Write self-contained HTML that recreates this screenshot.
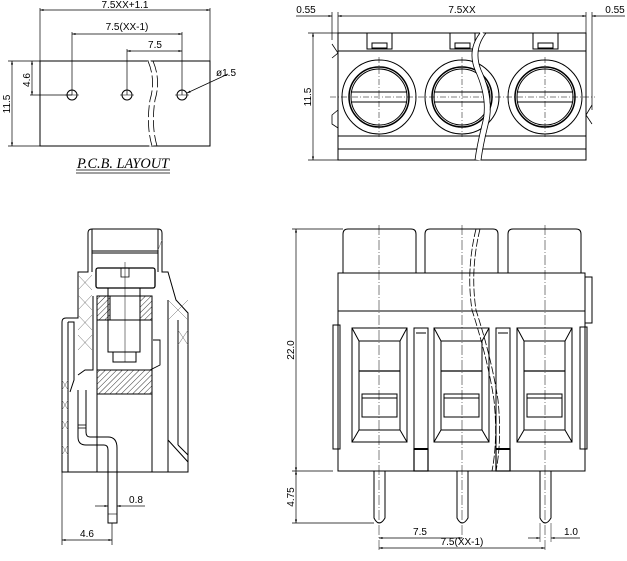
<!DOCTYPE html>
<html><head><meta charset="utf-8"><style>
html,body{margin:0;padding:0;background:#fff;}
svg{display:block;}
text{font-family:"Liberation Sans",sans-serif;font-size:10px;fill:#000;}
</style></head><body>
<svg width="627" height="561" viewBox="0 0 627 561" xmlns="http://www.w3.org/2000/svg">
<defs>
<marker id="a" viewBox="0 0 10 10" refX="10" refY="5" markerWidth="7" markerHeight="5" orient="auto-start-reverse"><path d="M0,2 L10,5 L0,8 z" fill="#000"/></marker>
<pattern id="h" width="4" height="4" patternUnits="userSpaceOnUse" patternTransform="rotate(45)"><line x1="0" y1="0" x2="0" y2="4" stroke="#000" stroke-width="0.8"/></pattern>
</defs>
<g fill="none" stroke="#000" stroke-width="1">
<!-- PCB layout -->
<rect x="40" y="61" width="170" height="85"/>
<line x1="40" y1="8" x2="40" y2="61" stroke-width="0.7"/><line x1="210" y1="8" x2="210" y2="61" stroke-width="0.7"/>
<line x1="40" y1="10" x2="210" y2="10" marker-start="url(#a)" marker-end="url(#a)" stroke-width="0.7"/>
<line x1="72" y1="32" x2="72" y2="95" stroke-width="0.7"/><line x1="182" y1="32" x2="182" y2="95" stroke-width="0.7"/>
<line x1="72" y1="34" x2="182" y2="34" marker-start="url(#a)" marker-end="url(#a)" stroke-width="0.7"/>
<line x1="127" y1="49" x2="127" y2="95" stroke-width="0.7"/>
<line x1="127" y1="51" x2="182" y2="51" marker-start="url(#a)" marker-end="url(#a)" stroke-width="0.7"/>
<circle cx="72" cy="95" r="5"/><circle cx="127" cy="95" r="5"/><circle cx="182" cy="95" r="5"/>
<line x1="65" y1="95" x2="79" y2="95" stroke-width="0.5"/><line x1="120" y1="95" x2="134" y2="95" stroke-width="0.5"/><line x1="175" y1="95" x2="189" y2="95" stroke-width="0.5"/>
<line x1="30" y1="95" x2="72" y2="95" stroke-width="0.7"/>
<line x1="32" y1="61" x2="32" y2="95" marker-start="url(#a)" marker-end="url(#a)" stroke-width="0.7"/>
<line x1="8" y1="61" x2="40" y2="61" stroke-width="0.7"/><line x1="8" y1="146" x2="40" y2="146" stroke-width="0.7"/>
<line x1="12" y1="61" x2="12" y2="146" marker-start="url(#a)" marker-end="url(#a)" stroke-width="0.7"/>
<line x1="228" y1="74" x2="187" y2="93" marker-end="url(#a)" stroke-width="0.7"/>
<path d="M148,61 Q156,80 150,100 Q146,125 152,146" stroke="#fff" stroke-width="5"/>
<path d="M148,61 Q156,80 150,100 Q146,125 152,146 M153,61 Q161,80 155,100 Q151,125 157,146" stroke-width="0.8" stroke-dasharray="12,3"/>
<line x1="76" y1="170" x2="170" y2="170" stroke-width="0.8"/><line x1="76" y1="173" x2="170" y2="173" stroke-width="0.8"/>

<!-- Top view -->
<rect x="338" y="33" width="248" height="127"/>
<line x1="338" y1="51" x2="586" y2="51"/>
<line x1="338" y1="136" x2="586" y2="136"/>
<line x1="338" y1="149" x2="586" y2="149"/>
<rect x="367" y="33" width="25" height="16"/><rect x="372" y="43" width="15" height="5"/>
<rect x="450" y="33" width="25" height="16"/><rect x="455" y="43" width="15" height="5"/>
<rect x="533" y="33" width="25" height="16"/><rect x="538" y="43" width="15" height="5"/>
<path d="M332,44 L338,53 L332,58" stroke-width="0.8"/><path d="M338,110 L332,115 L332,124 L338,128" stroke-width="0.8"/>
<path d="M592,105 L586,115 L592,124" stroke-width="0.8"/>
<g>
<circle cx="379" cy="97" r="37"/><circle cx="379" cy="97" r="30" stroke-width="1.5"/><circle cx="379" cy="97" r="28"/>
<line x1="351" y1="92" x2="407" y2="92"/><line x1="351" y1="102" x2="407" y2="102"/>
<circle cx="462" cy="97" r="37"/><circle cx="462" cy="97" r="30" stroke-width="1.5"/><circle cx="462" cy="97" r="28"/>
<line x1="434" y1="92" x2="490" y2="92"/><line x1="434" y1="102" x2="490" y2="102"/>
<circle cx="545" cy="97" r="37"/><circle cx="545" cy="97" r="30" stroke-width="1.5"/><circle cx="545" cy="97" r="28"/>
<line x1="517" y1="92" x2="573" y2="92"/><line x1="517" y1="102" x2="573" y2="102"/>
</g>
<g stroke-width="0.5" stroke-dasharray="6,2,1,2">
<line x1="330" y1="97" x2="595" y2="97"/>
<line x1="379" y1="57" x2="379" y2="137"/><line x1="462" y1="57" x2="462" y2="137"/><line x1="545" y1="57" x2="545" y2="137"/>
</g>
<path d="M483,33 Q470,50 478,70 Q492,100 485,125 Q480,145 478,160" stroke="#fff" stroke-width="5"/>
<path d="M480,33 Q467,50 475,70 Q489,100 482,125 Q477,145 475,160 M486,33 Q473,50 481,70 Q495,100 488,125 Q483,145 481,160" stroke-width="0.8"/>
<line x1="332" y1="12" x2="332" y2="40" stroke-width="0.7"/><line x1="338" y1="12" x2="338" y2="33" stroke-width="0.7"/>
<line x1="586" y1="12" x2="586" y2="33" stroke-width="0.7"/><line x1="592" y1="12" x2="592" y2="110" stroke-width="0.7"/>
<line x1="338" y1="16" x2="586" y2="16" marker-start="url(#a)" marker-end="url(#a)" stroke-width="0.7"/>
<line x1="296" y1="16" x2="332" y2="16" marker-end="url(#a)" stroke-width="0.7"/>
<line x1="592" y1="16" x2="625" y2="16" marker-start="url(#a)" stroke-width="0.7"/>
<line x1="308" y1="33" x2="338" y2="33" stroke-width="0.7"/><line x1="308" y1="160" x2="338" y2="160" stroke-width="0.7"/>
<line x1="313" y1="33" x2="313" y2="160" marker-start="url(#a)" marker-end="url(#a)" stroke-width="0.7"/>

<!-- Side view -->
<path d="M92,229 L158,229 Q162,229 162,233 L162,272 L168,272 L176,300 L188,313 L188,472 L62,472 L62,322 Q62,318 66,318 L78,318 L78,272 L88,272 L88,233 Q88,229 92,229 Z"/>
<line x1="92" y1="251" x2="158" y2="251"/><line x1="92" y1="253" x2="158" y2="253"/>
<line x1="92" y1="229" x2="92" y2="272"/><line x1="158" y1="229" x2="158" y2="272"/>
<rect x="96" y="268" width="59" height="20" rx="2" stroke-width="1.3"/>
<path d="M121,268 L121,277 L129,277 L129,268" stroke-width="0.8"/>
<rect x="97" y="296" width="55" height="98"/>
<rect x="97" y="296" width="13" height="24" fill="url(#h)"/><rect x="140" y="296" width="12" height="24" fill="url(#h)"/>
<line x1="97" y1="320" x2="152" y2="320"/>
<rect x="108" y="288" width="32" height="64"/>
<rect x="113" y="352" width="23" height="10"/>
<rect x="97" y="370" width="55" height="24" fill="url(#h)"/>
<line x1="125" y1="262" x2="125" y2="362" stroke-width="0.5"/>
<line x1="97" y1="394" x2="97" y2="472"/><line x1="152" y1="394" x2="152" y2="472"/>
<path d="M93,296 L93,370 L85,370 L78,375" /><line x1="68" y1="322" x2="68" y2="472"/>
<path d="M68,322 L74,322 L74,380 L70,392"/>
<path d="M153,340 L160,340 L160,365 L150,370 L100,370" stroke-width="0.9"/>
<line x1="168" y1="300" x2="168" y2="472"/><line x1="178" y1="320" x2="178" y2="445"/>
<path d="M178,445 L188,455"/><path d="M168,440 L188,462"/>
<path d="M78,390 L78,437 Q78,445 86,445 L104,445 Q108,445 108,450 L108,523 L117,523 L117,448 Q117,437 108,437 L90,437 Q86,437 86,432 L86,390" stroke-width="1"/>
<line x1="86" y1="425" x2="78" y2="425" stroke-width="0.8"/><line x1="86" y1="428" x2="78" y2="428" stroke-width="0.8"/>
<line x1="108" y1="514" x2="117" y2="514" stroke-width="0.6"/>
<g stroke="#666" stroke-width="0.5">
<path d="M78,275 L92,290 M92,275 L78,290 M78,295 L92,310 M92,295 L78,310 M78,315 L92,330 M92,315 L78,330 M78,335 L92,350 M92,335 L78,350"/>
<path d="M62,380 L68,390 M68,380 L62,390 M62,400 L68,410 M68,400 L62,410 M62,420 L68,430 M68,420 L62,430 M62,445 L68,455 M68,445 L62,455"/>
<path d="M162,240 L158,250 M168,300 L188,320 M188,300 L168,320 M178,330 L188,345 M188,330 L178,345"/>
</g>
<line x1="62" y1="472" x2="62" y2="545" stroke-width="0.7"/><line x1="112" y1="523" x2="112" y2="545" stroke-width="0.7"/>
<line x1="62" y1="540" x2="112" y2="540" marker-start="url(#a)" marker-end="url(#a)" stroke-width="0.7"/>
<line x1="95" y1="506" x2="108" y2="506" marker-end="url(#a)" stroke-width="0.7"/>
<line x1="130" y1="506" x2="117" y2="506" marker-end="url(#a)" stroke-width="0.7"/>
<line x1="130" y1="506" x2="145" y2="506" stroke-width="0.7"/>

<!-- Front view -->
<path d="M343,273 L343,234 Q343,229 348,229 L411,229 Q416,229 416,234 L416,273"/>
<path d="M425,273 L425,234 Q425,229 430,229 L493,229 Q498,229 498,234 L498,273"/>
<path d="M508,273 L508,234 Q508,229 513,229 L576,229 Q581,229 581,234 L581,273"/>
<rect x="338" y="273" width="247" height="198"/>
<line x1="338" y1="311" x2="585" y2="311"/>
<rect x="585" y="277" width="7" height="46"/>
<rect x="333" y="325" width="7" height="124"/>
<rect x="580" y="327" width="7" height="122"/>
<g id="w">
<rect x="352" y="328" width="55" height="114"/>
<rect x="359" y="341" width="41" height="89"/>
<path d="M352,328 L359,341 M407,328 L400,341 M352,442 L359,430 M407,442 L400,430"/>
<line x1="359" y1="371" x2="400" y2="371" stroke-width="1.3"/>
<rect x="362" y="394" width="35" height="23"/>
<line x1="362" y1="398" x2="397" y2="398"/>
</g>
<use href="#w" x="82"/><use href="#w" x="165"/>
<rect x="414" y="328" width="14" height="121"/><line x1="416" y1="333" x2="426" y2="333"/>
<rect x="414" y="449" width="14" height="22" stroke-width="1.2"/><line x1="414" y1="449" x2="428" y2="449" stroke-width="2"/>
<rect x="496" y="328" width="14" height="121"/><line x1="498" y1="333" x2="508" y2="333"/>
<rect x="496" y="449" width="14" height="22" stroke-width="1.2"/><line x1="496" y1="449" x2="510" y2="449" stroke-width="2"/>
<path d="M374,471 L374,518 Q379,528 385,518 L385,471"/>
<path d="M457,471 L457,518 Q462,528 468,518 L468,471"/>
<path d="M540,471 L540,518 Q545,528 551,518 L551,471"/>
<path d="M476,229 Q466,270 472,310 Q488,360 494,400 Q498,440 492,471" stroke-width="0.8" stroke-dasharray="8,2"/>
<path d="M480,229 Q470,270 476,310 Q492,360 498,400 Q502,440 496,471" stroke-width="0.8" stroke-dasharray="8,2"/>
<g stroke-width="0.5" stroke-dasharray="10,2,1,2">
<line x1="379" y1="225" x2="379" y2="552"/><line x1="462" y1="225" x2="462" y2="540"/><line x1="545" y1="225" x2="545" y2="552"/>
</g>
<line x1="292" y1="229" x2="343" y2="229" stroke-width="0.7"/>
<line x1="292" y1="471" x2="333" y2="471" stroke-width="0.7"/>
<line x1="292" y1="523" x2="374" y2="523" stroke-width="0.7"/>
<line x1="296" y1="229" x2="296" y2="471" marker-start="url(#a)" marker-end="url(#a)" stroke-width="0.7"/>
<line x1="296" y1="471" x2="296" y2="523" marker-start="url(#a)" marker-end="url(#a)" stroke-width="0.7"/>
<line x1="379" y1="538" x2="462" y2="538" marker-start="url(#a)" marker-end="url(#a)" stroke-width="0.7"/>
<line x1="379" y1="548" x2="545" y2="548" marker-start="url(#a)" marker-end="url(#a)" stroke-width="0.7"/>
<line x1="528" y1="538" x2="540" y2="538" marker-end="url(#a)" stroke-width="0.7"/>
<line x1="563" y1="538" x2="551" y2="538" marker-end="url(#a)" stroke-width="0.7"/>
<line x1="563" y1="538" x2="580" y2="538" stroke-width="0.7"/>
<line x1="540" y1="523" x2="540" y2="542" stroke-width="0.5"/><line x1="551" y1="523" x2="551" y2="542" stroke-width="0.5"/>
</g>
<text x="125" y="8" text-anchor="middle">7.5XX+1.1</text>
<text x="127" y="30" text-anchor="middle">7.5(XX-1)</text>
<text x="155" y="48" text-anchor="middle">7.5</text>
<text x="216" y="76">ø1.5</text>
<text x="0" y="0" transform="translate(30,80) rotate(-90)" text-anchor="middle">4.6</text>
<text x="0" y="0" transform="translate(10,104) rotate(-90)" text-anchor="middle">11.5</text>
<text x="123" y="168" text-anchor="middle" textLength="92" lengthAdjust="spacingAndGlyphs" style="font-family:'Liberation Serif',serif;font-style:italic;font-size:15px">P.C.B.  LAYOUT</text>
<text x="306" y="13" text-anchor="middle">0.55</text>
<text x="462" y="13" text-anchor="middle">7.5XX</text>
<text x="615" y="13" text-anchor="middle">0.55</text>
<text x="0" y="0" transform="translate(311,97) rotate(-90)" text-anchor="middle">11.5</text>
<text x="136" y="503" text-anchor="middle">0.8</text>
<text x="87" y="537" text-anchor="middle">4.6</text>
<text x="0" y="0" transform="translate(294,350) rotate(-90)" text-anchor="middle">22.0</text>
<text x="0" y="0" transform="translate(294,497) rotate(-90)" text-anchor="middle">4.75</text>
<text x="420" y="535" text-anchor="middle">7.5</text>
<text x="462" y="545" text-anchor="middle">7.5(XX-1)</text>
<text x="571" y="535" text-anchor="middle">1.0</text>
</svg>
</body></html>
